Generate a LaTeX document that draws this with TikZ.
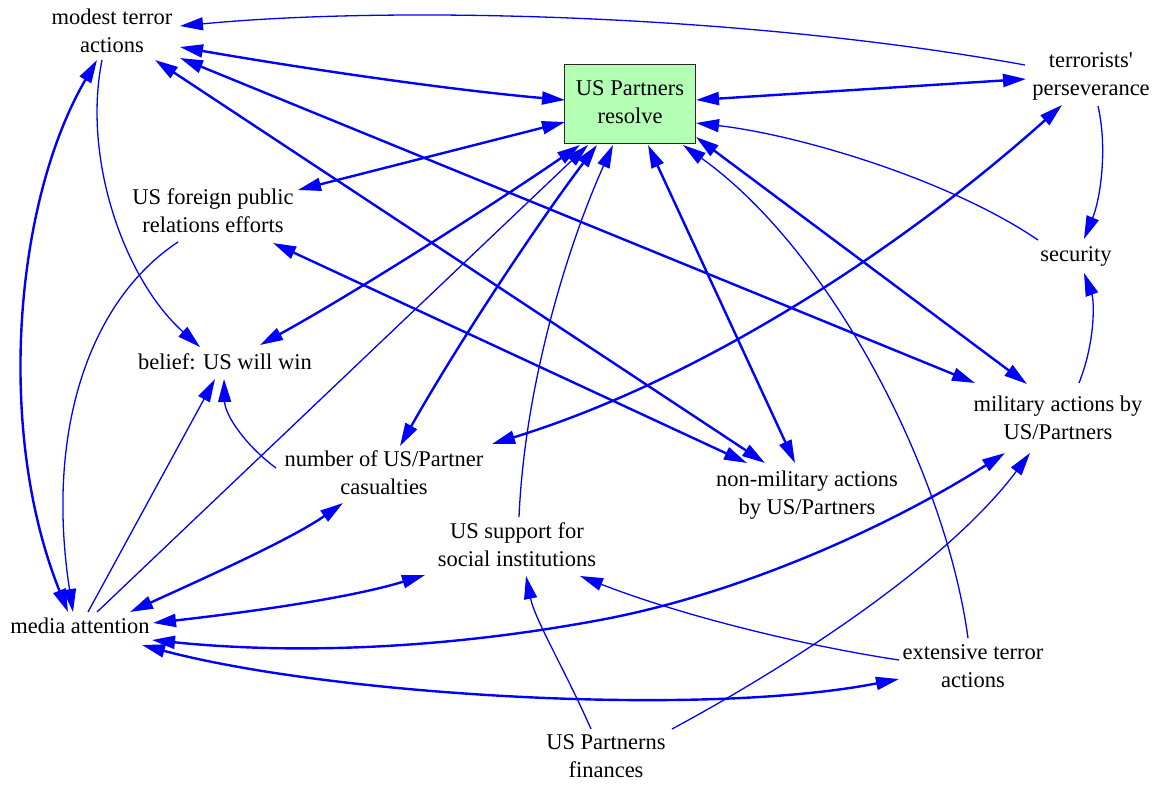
\documentclass[tikz,border=0pt]{standalone}
\usepackage{fontspec}
\setmainfont{Liberation Serif}
\usetikzlibrary{arrows.meta}
\definecolor{boxfill}{RGB}{179,255,179}
\definecolor{boxline}{RGB}{40,40,40}
\begin{document}
\begin{tikzpicture}[x=0.5pt,y=-0.5pt,
  lbl/.style={align=center, inner xsep=2pt, inner ysep=0pt, font=\fontsize{11.25}{14.25}\selectfont},
  resolvebox/.style={lbl, draw=boxline, fill=boxfill, line width=0.6pt, minimum width=65.5pt, minimum height=39.5pt},
  edge/.style={draw=blue, line width=0.65pt, -{Triangle[length=11.5pt,width=6.5pt]}},
  both/.style={draw=blue, line width=1.2pt, {Triangle[length=11.5pt,width=6.5pt]}-{Triangle[length=11.5pt,width=6.5pt]}},
]
\fill[white] (0,0) rectangle (1158,784);
\useasboundingbox (0,0) rectangle (1158,784);

% nodes
\node[lbl] (modest) at (112,33) {\strut modest terror\\\strut actions};
\node[resolvebox] (resolve) at (630,104) {\strut US Partners\\\strut resolve};
\node[lbl] (pers) at (1091,76) {\strut terrorists\textquotesingle\\\strut perseverance};
\node[lbl] (pr) at (213,213) {\strut US foreign public\\\strut relations efforts};
\node[lbl] (security) at (1076,256) {\strut security};
\node[lbl] (belief) at (225,364) {\strut belief: US will win};
\node[lbl] (military) at (1058,420) {\strut military actions by\\\strut US/Partners};
\node[lbl] (casualties) at (384,475) {\strut number of US/Partner\\\strut casualties};
\node[lbl] (nonmil) at (807,495) {\strut non-military actions\\\strut by US/Partners};
\node[lbl] (support) at (517,547) {\strut US support for\\\strut social institutions};
\node[lbl] (media) at (80,628) {\strut media attention};
\node[lbl] (extensive) at (973,668) {\strut extensive terror\\\strut actions};
\node[lbl] (finances) at (606,758) {\strut US Partnerns\\\strut finances};

% edges
\draw[edge] ([shift={(-66,-11)}]pers.center) .. controls (750,15) and (400,5) .. ([shift={(68,-7)}]modest.center);
\draw[both] ([shift={(68,14)}]modest.center) .. controls (300,68) and (450,90) .. ([shift={(-65,-4)}]resolve.center);
\draw[both] ([shift={(68,25)}]modest.center) -- ([shift={(-83,-37)}]military.center);
\draw[both] ([shift={(43,27)}]modest.center) -- ([shift={(-42,-32)}]nonmil.center);
\draw[edge] ([shift={(-10,27)}]modest.center) .. controls (82,160) and (125,280) .. ([shift={(-25,-17)}]belief.center);
\draw[both] ([shift={(-12,-16)}]media.center) .. controls (-5,430) and (15,200) .. ([shift={(-15,27)}]modest.center);
\draw[edge] ([shift={(-35,29)}]pr.center) .. controls (90,300) and (45,430) .. ([shift={(-7,-16)}]media.center);
\draw[both] ([shift={(85,-23)}]pr.center) -- ([shift={(-65,18)}]resolve.center);
\draw[both] ([shift={(60,30)}]pr.center) -- ([shift={(-60,-32)}]nonmil.center);
\draw[both] ([shift={(35,-19)}]belief.center) .. controls (360,290) and (500,200) .. ([shift={(-50,41)}]resolve.center);
\draw[edge] ([shift={(17,-16)}]media.center) -- ([shift={(-42,41)}]resolve.center);
\draw[both] ([shift={(16,-29)}]casualties.center) .. controls (460,340) and (540,220) .. ([shift={(-33,41)}]resolve.center);
\draw[edge] ([shift={(2,-30)}]support.center) .. controls (525,380) and (570,240) .. ([shift={(-17,41)}]resolve.center);
\draw[both] ([shift={(-12,-32)}]nonmil.center) -- ([shift={(18,41)}]resolve.center);
\draw[edge] ([shift={(-5,-30)}]extensive.center) .. controls (945,470) and (830,250) .. ([shift={(53,41)}]resolve.center);
\draw[both] ([shift={(-31,-36)}]military.center) -- ([shift={(66,33)}]resolve.center);
\draw[edge] ([shift={(-38,-16)}]security.center) .. controls (950,180) and (800,135) .. ([shift={(66,19)}]resolve.center);
\draw[both] ([shift={(-65,3)}]pers.center) -- ([shift={(66,-4)}]resolve.center);
\draw[edge] ([shift={(7,30)}]pers.center) .. controls (1108,150) and (1100,200) .. ([shift={(8,-17)}]security.center);
\draw[edge] ([shift={(21,-37)}]military.center) .. controls (1096,340) and (1094,300) .. ([shift={(8,17)}]security.center);
\draw[both] ([shift={(108,-31)}]casualties.center) .. controls (700,380) and (900,250) .. ([shift={(-29,29)}]pers.center);
\draw[edge] ([shift={(8,-16)}]media.center) -- ([shift={(-10,15)}]belief.center);
\draw[edge] ([shift={(-108,-7)}]casualties.center) .. controls (245,445) and (225,415) .. ([shift={(-1,15)}]belief.center);
\draw[both] ([shift={(50,-16)}]media.center) .. controls (200,580) and (290,540) .. ([shift={(-41,28)}]casualties.center);
\draw[both] ([shift={(73,-5)}]media.center) .. controls (250,612) and (350,598) .. ([shift={(-92,28)}]support.center);
\draw[both] ([shift={(72,12)}]media.center) .. controls (300,655) and (450,648) .. (600,620) .. controls (750,592) and (900,520) .. ([shift={(-53,33)}]military.center);
\draw[both] ([shift={(62,17)}]media.center) .. controls (330,695) and (700,718) .. ([shift={(-74,11)}]extensive.center);
\draw[edge] ([shift={(-74,-8)}]extensive.center) .. controls (800,645) and (680,615) .. ([shift={(63,29)}]support.center);
\draw[edge] ([shift={(-15,-29)}]finances.center) .. controls (565,670) and (535,620) .. ([shift={(9,29)}]support.center);
\draw[edge] ([shift={(66,-29)}]finances.center) .. controls (800,660) and (950,560) .. ([shift={(-28,33)}]military.center);
\end{tikzpicture}
\end{document}
